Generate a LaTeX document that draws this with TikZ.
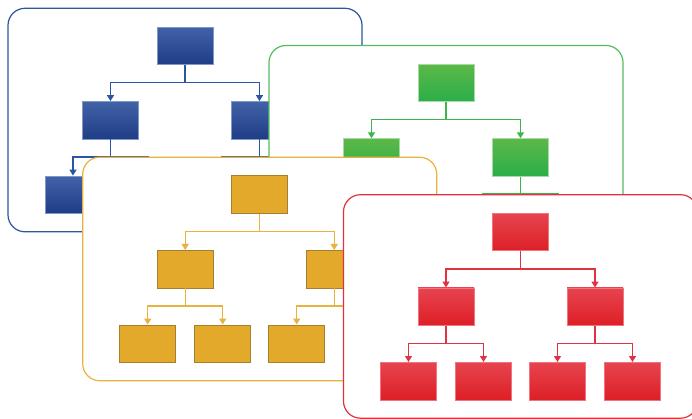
\documentclass[tikz,border=0pt]{standalone}
\usetikzlibrary{arrows.meta}
\definecolor{bTop}{HTML}{4262A8}\definecolor{bMid}{HTML}{17489B}\definecolor{bBot}{HTML}{1F3D86}
\definecolor{bLine}{HTML}{2A55A3}\definecolor{bEdge}{HTML}{7F98C8}
\definecolor{gTop}{HTML}{5CB847}\definecolor{gMid}{HTML}{34B04A}\definecolor{gBot}{HTML}{2AAE4A}
\definecolor{gLine}{HTML}{3DB54C}\definecolor{gEdge}{HTML}{A6DBA6}\definecolor{gFrame}{HTML}{55BC5E}
\definecolor{yFill}{HTML}{E3A92A}\definecolor{yEdge}{HTML}{A77F30}\definecolor{yLine}{HTML}{E9B23E}
\definecolor{rTop}{HTML}{E6444F}\definecolor{rMid}{HTML}{E41C28}\definecolor{rBot}{HTML}{DE1F26}
\definecolor{rLine}{HTML}{E1323F}\definecolor{rEdge}{HTML}{EF7480}
\tikzset{
  x=1pt, y=-1pt,
  orgbox/.style={rectangle, minimum width=56pt, minimum height=37.5pt, inner sep=0pt, line width=0.9pt},
  bluebox/.style={orgbox, draw=bEdge, top color=bTop, middle color=bMid, bottom color=bBot},
  greenbox/.style={orgbox, draw=gEdge, top color=gTop, middle color=gMid, bottom color=gBot},
  yellowbox/.style={orgbox, draw=yEdge, fill=yFill},
  redbox/.style={orgbox, draw=rEdge, top color=rTop, middle color=rMid, bottom color=rBot},
  panelframe/.style={rounded corners=17pt, fill=white, line width=1.2pt},
  conn/.style={line width=1.4pt},
  arr/.style={conn, -{Triangle[width=7pt,length=6pt]}},
}
% #1 prefix, #2 box style, #3 line colour, #4 shift, #5 frame colour
\newcommand{\orgpanel}[5]{%
  \begin{scope}[shift={#4}]
    \draw[panelframe, draw=#5] (-177,-37.5) rectangle (177,186);
    \coordinate (#1-j0) at (0,36.7);
    \coordinate (#1-j1) at (-74.5,111.2);
    \coordinate (#1-j2) at (74.5,111.2);
    \node[#2] (#1-r) at (0,0) {};
    \node[#2] (#1-c1) at (-74.5,74.5) {};
    \node[#2] (#1-c2) at (74.5,74.5) {};
    \node[#2] (#1-g1) at (-112,149) {};
    \node[#2] (#1-g2) at (-37,149) {};
    \node[#2] (#1-g3) at (37,149) {};
    \node[#2] (#1-g4) at (112,149) {};
    \draw[conn, draw=#3] (#1-r.south) -- (#1-j0);
    \draw[arr, draw=#3] (#1-j0) -| (#1-c1.north);
    \draw[arr, draw=#3] (#1-j0) -| (#1-c2.north);
    \draw[conn, draw=#3] (#1-c1.south) -- (#1-j1);
    \draw[arr, draw=#3] (#1-j1) -| (#1-g1.north);
    \draw[arr, draw=#3] (#1-j1) -| (#1-g2.north);
    \draw[conn, draw=#3] (#1-c2.south) -- (#1-j2);
    \draw[arr, draw=#3] (#1-j2) -| (#1-g3.north);
    \draw[arr, draw=#3] (#1-j2) -| (#1-g4.north);
  \end{scope}}
\begin{document}
\begin{tikzpicture}
  \clip (0,0) rectangle (692,419);
  \fill[white] (0,0) rectangle (692,419);
  \orgpanel{b}{bluebox}{bLine}{(185,45.8)}{bLine}
  \orgpanel{g}{greenbox}{gLine}{(446,83)}{gFrame}
  \orgpanel{y}{yellowbox}{yLine}{(259.7,194.7)}{yLine}
  \orgpanel{r}{redbox}{rLine}{(520.5,232.2)}{rLine}
\end{tikzpicture}
\end{document}
